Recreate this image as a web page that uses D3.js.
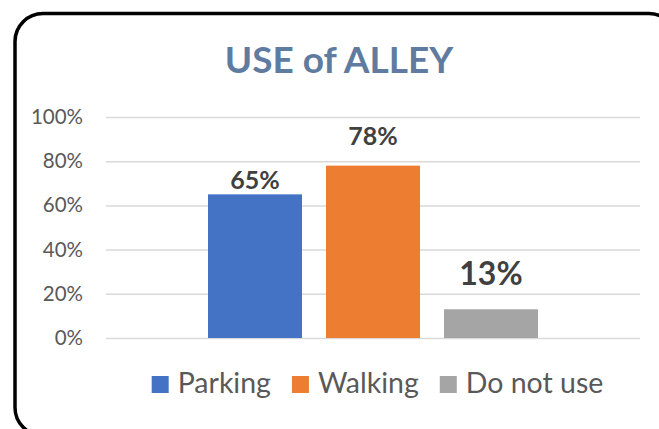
<!DOCTYPE html>
<html>
<head>
<meta charset="utf-8">
<script src="https://cdn.jsdelivr.net/npm/d3@7"></script>
<style>
  body { margin: 0; background: #fff; }
  svg { display: block; font-family: Lato, "Open Sans", sans-serif; }
</style>
</head>
<body>
<script>
const w = 659;
const h = 429;

// data
const title = "USE of ALLEY";
const series = ["Parking", "Walking", "Do not use"];
const values = [0.65, 0.78, 0.13];
const colors = ["#4472C4", "#ED7D31", "#A5A5A5"];
const yTicks = [0, 0.2, 0.4, 0.6, 0.8, 1.0];

// label tweaks (labels were nudged by hand in the original)
const labelLift = [5, 21, 24];
const labelSize = [25, 25, 32];

const plot = { left: 106, right: 640, top: 117, bottom: 338 };

const svg = d3.select("body").append("svg").attr("width", w).attr("height", h);

// outer frame
svg.append("rect")
  .attr("x", 15).attr("y", 13.5)
  .attr("width", 662).attr("height", 422)
  .attr("rx", 28)
  .attr("fill", "#fff")
  .attr("stroke", "#000")
  .attr("stroke-width", 3.5);

svg.append("text")
  .attr("x", 339).attr("y", 73)
  .attr("text-anchor", "middle")
  .attr("font-size", 37)
  .attr("font-weight", 700)
  .attr("fill", "#5F7B9F")
  .text(title);

const yScale = d3.scaleLinear().domain([0, 1]).range([plot.bottom, plot.top]);

const mid = (plot.left + plot.right) / 2;
const xScale = d3.scaleBand()
  .domain(series)
  .range([mid - 177, mid + 177])
  .paddingInner(0.2034)
  .paddingOuter(0.1017);

// y axis with gridlines
const yAxis = d3.axisLeft(yScale)
  .tickValues(yTicks)
  .tickFormat(d3.format(".0%"))
  .tickSize(-(plot.right - plot.left))
  .tickPadding(23);

const yg = svg.append("g")
  .attr("transform", "translate(" + plot.left + ",0)")
  .call(yAxis);
yg.select(".domain").remove();
yg.selectAll(".tick line").attr("stroke", "#D9D9D9").attr("stroke-width", 1.5);
yg.selectAll(".tick text")
  .attr("fill", "#595959")
  .attr("font-size", 20.5)
  .attr("font-family", "Lato, sans-serif");

// bars
svg.append("g")
  .selectAll("rect")
  .data(values)
  .join("rect")
  .attr("x", (d, i) => xScale(series[i]))
  .attr("y", d => yScale(d))
  .attr("width", xScale.bandwidth())
  .attr("height", d => yScale(0) - yScale(d))
  .attr("fill", (d, i) => colors[i]);

// data labels
svg.append("g")
  .selectAll("text")
  .data(values)
  .join("text")
  .attr("x", (d, i) => xScale(series[i]) + xScale.bandwidth() / 2)
  .attr("y", (d, i) => yScale(d) - labelLift[i])
  .attr("text-anchor", "middle")
  .attr("font-weight", 700)
  .attr("font-size", (d, i) => labelSize[i])
  .attr("fill", "#404040")
  .text(d => d3.format(".0%")(d));

// legend
const legend = svg.append("g");
let lx = 0;
series.forEach(function (s, i) {
  const item = legend.append("g").attr("transform", "translate(" + lx + ",0)");
  item.append("rect")
    .attr("x", 0).attr("y", 376)
    .attr("width", 17).attr("height", 17)
    .attr("fill", colors[i]);
  const t = item.append("text")
    .attr("x", 26).attr("y", 393)
    .attr("font-size", 28.5)
    .attr("fill", "#595959")
    .text(s);
  lx += 26 + t.node().getComputedTextLength() + 21;
});
const legendWidth = lx - 21;
legend.attr("transform", "translate(" + (377.5 - legendWidth / 2) + ",0)");
</script>
</body>
</html>
